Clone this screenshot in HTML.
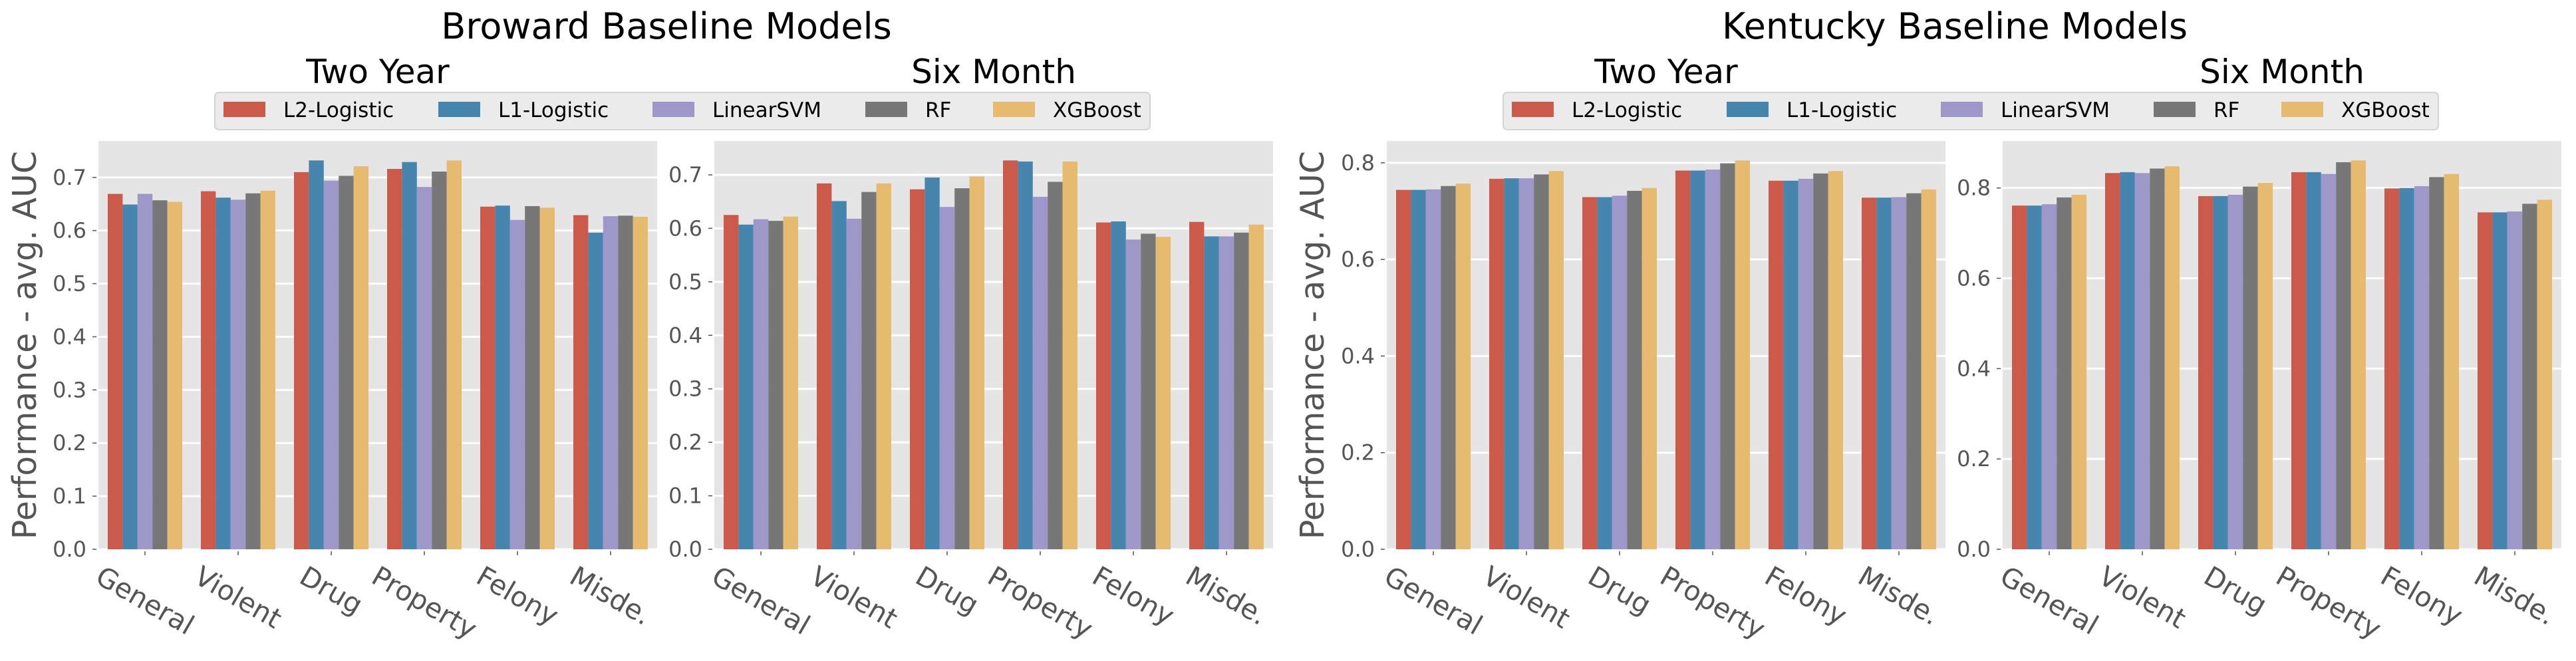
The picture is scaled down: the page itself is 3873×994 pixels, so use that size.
<!DOCTYPE html>
<html><head><meta charset="utf-8"><style>
body{margin:0;background:#fff;}
svg{display:block;font-family:"DejaVu Sans","Liberation Sans",sans-serif;}
</style></head><body>
<svg id="fig" width="3873" height="994" viewBox="0 0 3873 994" xmlns="http://www.w3.org/2000/svg">
<text x="1002" y="58" font-size="54" text-anchor="middle" fill="#000">Broward Baseline Models</text>
<text x="2939" y="58" font-size="54" text-anchor="middle" fill="#000">Kentucky Baseline Models</text>
<text transform="translate(54,519) rotate(-90)" font-size="49" text-anchor="middle" fill="#555">Performance - avg. AUC</text>
<text transform="translate(1990,519) rotate(-90)" font-size="49" text-anchor="middle" fill="#555">Performance - avg. AUC</text>
<g id="layer"></g>
</svg>
<script>
const categories = ["General","Violent","Drug","Property","Felony","Misde."];
const models = ["L2-Logistic","L1-Logistic","LinearSVM","RF","XGBoost"];
const colors = ["#cb5a4a","#4686ae","#9e97c9","#777777","#e6ba6f"];
// Broward two year
const browardTwoYearL2 = [0.669,0.674,0.710,0.716,0.645,0.629];
const browardTwoYearL1 = [0.649,0.662,0.732,0.729,0.647,0.596];
const browardTwoYearSVM = [0.669,0.658,0.694,0.682,0.620,0.627];
const browardTwoYearRF = [0.657,0.670,0.703,0.711,0.646,0.628];
const browardTwoYearXGB = [0.654,0.675,0.721,0.732,0.643,0.626];
// Broward six month
const browardSixMonthL2 = [0.625,0.684,0.673,0.727,0.611,0.612];
const browardSixMonthL1 = [0.607,0.651,0.695,0.725,0.613,0.585];
const browardSixMonthSVM = [0.617,0.618,0.640,0.659,0.579,0.585];
const browardSixMonthRF = [0.614,0.668,0.675,0.687,0.590,0.592];
const browardSixMonthXGB = [0.622,0.684,0.697,0.725,0.584,0.607];
// Kentucky two year
const kentuckyTwoYearL2 = [0.744,0.767,0.729,0.784,0.763,0.728];
const kentuckyTwoYearL1 = [0.744,0.768,0.729,0.784,0.763,0.728];
const kentuckyTwoYearSVM = [0.745,0.768,0.732,0.786,0.767,0.729];
const kentuckyTwoYearRF = [0.752,0.776,0.742,0.799,0.778,0.737];
const kentuckyTwoYearXGB = [0.757,0.783,0.748,0.805,0.783,0.745];
// Kentucky six month
const kentuckySixMonthL2 = [0.761,0.833,0.782,0.835,0.799,0.746];
const kentuckySixMonthL1 = [0.761,0.835,0.782,0.835,0.800,0.746];
const kentuckySixMonthSVM = [0.764,0.833,0.785,0.831,0.804,0.748];
const kentuckySixMonthRF = [0.779,0.843,0.803,0.857,0.824,0.765];
const kentuckySixMonthXGB = [0.785,0.848,0.811,0.861,0.831,0.774];
const ticksBroward = [0.0,0.1,0.2,0.3,0.4,0.5,0.6,0.7];
const ticksKentucky = [0.0,0.2,0.4,0.6,0.8];

const NS="http://www.w3.org/2000/svg";
const layer=document.getElementById('layer');
function mk(tag,attrs,parent){const e=document.createElementNS(NS,tag);for(const k in attrs)e.setAttribute(k,attrs[k]);(parent||layer).appendChild(e);return e;}

const panels=[
 {name:"broward-two-year",title:"Two Year",left:148,series:[browardTwoYearL2,browardTwoYearL1,browardTwoYearSVM,browardTwoYearRF,browardTwoYearXGB],ticks:ticksBroward},
 {name:"broward-six-month",title:"Six Month",left:1074,series:[browardSixMonthL2,browardSixMonthL1,browardSixMonthSVM,browardSixMonthRF,browardSixMonthXGB],ticks:ticksBroward},
 {name:"kentucky-two-year",title:"Two Year",left:2085,series:[kentuckyTwoYearL2,kentuckyTwoYearL1,kentuckyTwoYearSVM,kentuckyTwoYearRF,kentuckyTwoYearXGB],ticks:ticksKentucky},
 {name:"kentucky-six-month",title:"Six Month",left:3011,series:[kentuckySixMonthL2,kentuckySixMonthL1,kentuckySixMonthSVM,kentuckySixMonthRF,kentuckySixMonthXGB],ticks:ticksKentucky}
];
const TOP=212,BOT=826,W=840;
panels.forEach(p=>{
  const g=mk('g',{});
  
  
  let m=0;p.series.forEach(s=>s.forEach(v=>{if(v>m)m=v;}));
  const ymax=m*1.05;
  const y=v=>BOT-(v/ymax)*(BOT-TOP);
  const step=W/categories.length;
  const x=i=>p.left+step*(i+0.5);
  const bg=mk('rect',{x:p.left,y:TOP,width:W,height:BOT-TOP,fill:'#e5e5e5'},g);
  
  
  p.ticks.forEach(t=>{
    const yy=y(t);
    const gl=mk('line',{x1:p.left,x2:p.left+W,y1:yy,y2:yy,stroke:'#fff','stroke-width':3},g);
    
    
    mk('line',{x1:p.left-9,x2:p.left-3,y1:yy,y2:yy,stroke:'#555','stroke-width':1.5},g);
    const tl=mk('text',{x:p.left-18,y:yy+11,'font-size':32,'text-anchor':'end',fill:'#555'},g);
    tl.textContent=t.toFixed(1);
    
    
  });
  const bw=step*0.8/5;
  p.series.forEach((s,k)=>{
    s.forEach((v,i)=>{
      const bx=x(i)-step*0.4+k*bw;
      const r=mk('rect',{x:bx,y:y(v),width:bw,height:BOT-y(v),fill:colors[k]},g);
      
      
    });
  });
  categories.forEach((c,i)=>{
    mk('line',{x1:x(i),x2:x(i),y1:BOT+3,y2:BOT+9,stroke:'#555','stroke-width':1.5},g);
    const t=mk('text',{'font-size':41,'text-anchor':'middle','dominant-baseline':'central',fill:'#555'},g);
    t.textContent=c;
    
    
    const w=t.getComputedTextLength();const h=41*1.17;
    const bh=w*0.5+h*0.866;
    t.setAttribute('transform','translate('+x(i)+','+(842+bh/2)+') rotate(30)');
  });
  const st=mk('text',{x:p.left+W/2,y:125,'font-size':50,'text-anchor':'middle',fill:'#000'},g);
  st.textContent=p.title;
  
  
});
// legends
[{name:'broward-legend',left:323},{name:'kentucky-legend',left:2260}].forEach(L=>{
  const g=mk('g',{});
  
  
  mk('rect',{x:L.left,y:139,width:1406,height:56,rx:6,fill:'#ebebeb',stroke:'#d4d4d4','stroke-width':2},g);
  const offs=[13,336,658,978,1170];
  models.forEach((m,k)=>{
    const e=mk('g',{},g);
    
    
    mk('rect',{x:L.left+offs[k],y:153,width:63,height:23,fill:colors[k]},e);
    const t=mk('text',{x:L.left+offs[k]+90,y:176,'font-size':31,fill:'#000'},e);
    t.textContent=m;
  });
});
</script>
</body></html>
